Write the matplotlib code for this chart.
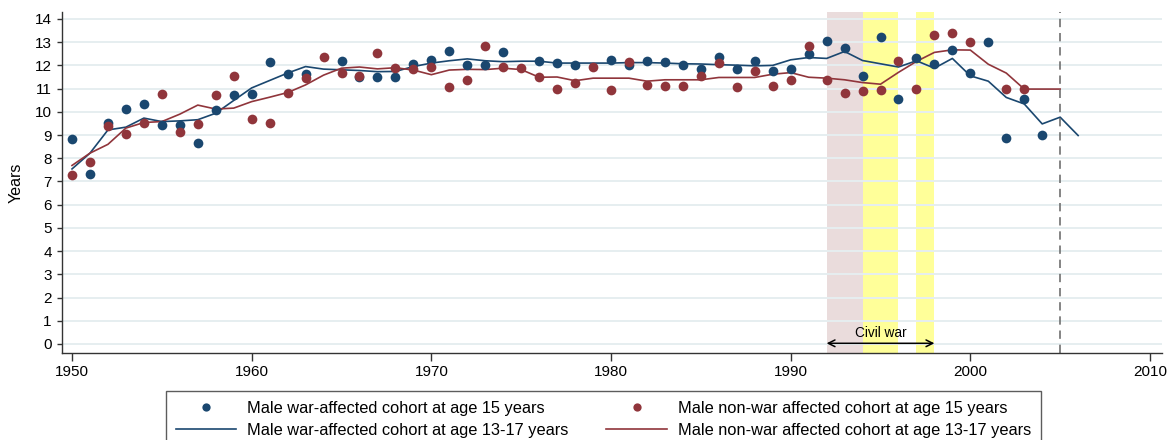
import numpy as np
import matplotlib
matplotlib.use("Agg")
import matplotlib.pyplot as plt

plt.rcParams['font.family'] = ['Liberation Sans', 'DejaVu Sans']

nan = np.nan

# ---- data ----
years_dots = list(range(1950, 2005))
war_age15 = [8.84, 7.34, 9.54, 10.11, 10.34, 9.43, 9.43, 8.65, 10.06, 10.72,
             10.75, 12.16, 11.61, 11.62, nan, 12.17, 11.49, 11.49, 11.49, 12.07,
             12.23, 12.62, 12.00, 12.03, 12.57, nan, 12.20, 12.11, 12.03, nan,
             12.24, 12.03, 12.17, 12.15, 12.03, 11.85, 12.37, 11.84, 12.21, 11.74,
             11.84, 12.49, 13.03, 12.76, 11.53, 13.24, 10.55, 12.31, 12.04, 12.67,
             11.67, 13.00, 8.87, 10.55, 9.00]
nonwar_age15 = [7.27, 7.86, 9.41, 9.05, 9.53, 10.76, 9.12, 9.47, 10.72, 11.54,
                9.71, 9.50, 10.82, 11.45, 12.36, 11.67, 11.54, 12.53, 11.88, 11.85,
                11.95, 11.08, 11.35, 12.84, 11.93, 11.88, 11.49, 11.00, 11.26, 11.95,
                10.92, 12.13, 11.14, 11.10, 11.10, 11.55, 12.10, 11.08, 11.74, 11.10,
                11.38, 12.84, 11.35, 10.79, 10.90, 10.95, 12.21, 10.98, 13.30, 13.38,
                13.02, nan, 10.98, 10.98, nan]

years_war_line = list(range(1950, 2007))
war_age13_17 = [7.54, 8.22, 9.22, 9.34, 9.73, 9.58, 9.61, 9.66, 9.94, 10.49,
                11.03, 11.35, 11.67, 11.95, 11.84, 11.81, 11.78, 11.73, 11.74, 11.95,
                12.10, 12.20, 12.28, 12.20, 12.16, 12.18, 12.18, 12.10, 12.10, 12.10,
                12.10, 12.12, 12.12, 12.10, 12.07, 12.06, 12.03, 12.01, 11.98, 12.00,
                12.24, 12.34, 12.30, 12.60, 12.21, 12.07, 11.93, 12.20, 11.88, 12.30,
                11.55, 11.32, 10.62, 10.34, 9.48, 9.77, 8.98]

years_nonwar_line = list(range(1950, 2006))
nonwar_age13_17 = [7.69, 8.22, 8.60, 9.30, 9.54, 9.58, 9.90, 10.29, 10.12, 10.16,
                   10.44, 10.63, 10.83, 11.16, 11.58, 11.88, 11.93, 11.85, 11.90, 11.80,
                   11.60, 11.80, 11.83, 11.82, 11.88, 11.82, 11.49, 11.50, 11.34, 11.45,
                   11.45, 11.45, 11.32, 11.38, 11.38, 11.38, 11.48, 11.48, 11.48, 11.62,
                   11.69, 11.49, 11.45, 11.38, 11.26, 11.19, 11.70, 12.17, 12.56, 12.67,
                   12.66, 12.05, 11.67, 10.98, 10.98, 10.98]

war_start, war_end = 1992, 1998
rosy_span = (1992, 1994)
yellow_spans = [(1994, 1996), (1997, 1998)]
cutoff_year = 2005

labels = ["Male war-affected cohort at age 15 years",
          "Male war-affected cohort at age 13-17 years",
          "Male non-war affected cohort at age 15 years",
          "Male non-war affected cohort at age 13-17 years"]

BLUE = '#1a476f'
RED = '#90353b'

fig = plt.figure(figsize=(11.76, 4.40), dpi=100)
ax = fig.add_axes([62/1176, 1-353/440, 1100/1176, 341/440])

ax.axvspan(*rosy_span, color='#eadcdc', lw=0, zorder=0)
for s in yellow_spans:
    ax.axvspan(*s, color='#ffff99', lw=0, zorder=0)

for yv in range(0, 15):
    ax.axhline(yv, color='#e6eef0', lw=1.4, zorder=0.5)

l1, = ax.plot(years_war_line, war_age13_17, color=BLUE, lw=1.2, zorder=2)
l2, = ax.plot(years_nonwar_line, nonwar_age13_17, color=RED, lw=1.2, zorder=2)
d1, = ax.plot(years_dots, war_age15, 'o', color=BLUE, ms=7, mew=0, zorder=3)
d2, = ax.plot(years_dots, nonwar_age15, 'o', color=RED, ms=7, mew=0, zorder=4)

ax.axvline(cutoff_year, color='#707070', lw=1.2, ls=(0, (5, 3.5)), zorder=2.5)

ax.annotate('', xy=(war_start, 0.03), xytext=(war_end, 0.03),
            arrowprops=dict(arrowstyle='<->', color='black', lw=1.1,
                            mutation_scale=12, shrinkA=0, shrinkB=0), zorder=5)
ax.text((war_start + war_end) / 2, 0.48, 'Civil war', ha='center', va='center',
        fontsize=9.8, zorder=5)

ax.set_xlim(1949.443, 2010.668)
ax.set_ylim(-0.388, 14.3)
ax.set_xticks(range(1950, 2011, 10))
ax.set_yticks(range(0, 15))
for sp in ['top', 'right']:
    ax.spines[sp].set_visible(False)
for sp in ['left', 'bottom']:
    ax.spines[sp].set_color('#333333')
    ax.spines[sp].set_linewidth(1.0)
ax.tick_params(axis='x', direction='out', length=5.5, width=1.0,
               color='#333333', labelsize=11, pad=3.5)
ax.tick_params(axis='y', direction='out', length=3.8, width=1.0,
               color='#333333', labelsize=11, pad=3.6)
ax.set_ylabel('Years', fontsize=11.5, labelpad=8)

leg = fig.legend([d1, l1, d2, l2], labels, ncol=2, loc='upper center',
                 bbox_to_anchor=(603.5/1176, 1-391/440), fontsize=11.8,
                 frameon=True, fancybox=False, edgecolor='#333333',
                 handlelength=3.7, handletextpad=0.67, columnspacing=2.3,
                 labelspacing=0.42, borderpad=0.62, borderaxespad=0,
                 markerscale=0.85)
leg.get_frame().set_linewidth(1.0)

fig.savefig('out.png', dpi=100)
